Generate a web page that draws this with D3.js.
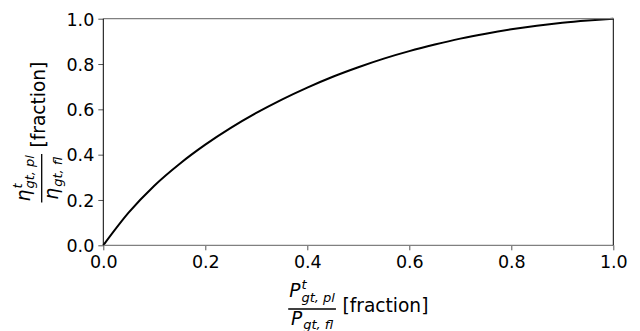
<!DOCTYPE html>
<html>
<head>
<meta charset="utf-8">
<script src="https://cdn.jsdelivr.net/npm/d3@7"></script>
<style>
  body { margin: 0; background: #fff; }
  text { font-family: "DejaVu Sans", sans-serif; }
</style>
</head>
<body>
<svg width="640" height="331"></svg>
<script>
// load fraction vs relative efficiency
var loadFrac = [0, 0.05, 0.1, 0.15, 0.2, 0.25, 0.3, 0.35, 0.4, 0.45, 0.5,
                0.55, 0.6, 0.65, 0.7, 0.75, 0.8, 0.85, 0.9, 0.95, 1.0];
var effFrac = [0, 0.145, 0.263, 0.36, 0.444, 0.518, 0.584, 0.643, 0.696, 0.744, 0.786,
               0.824, 0.857, 0.886, 0.912, 0.934, 0.953, 0.969, 0.982, 0.992, 1.0];
var tickVals = [0, 0.2, 0.4, 0.6, 0.8, 1.0];

var svg = d3.select("svg"),
    margin = {left: 103.3, top: 18.7},
    width = 510, height = 226.6,
    g = svg.append("g").attr("transform", "translate(" + margin.left + "," + margin.top + ")");

var x = d3.scaleLinear().domain([0, 1]).range([0, width]);
var y = d3.scaleLinear().domain([0, 1]).range([height, 0]);

var data = loadFrac.map(function (d, i) { return {x: d, y: effFrac[i]}; });

var tickFont = 17.5, labelFont = 18.6;

// axes (ticks only, spines drawn separately)
var xAxis = g.append("g")
    .attr("transform", "translate(0," + height + ")")
    .call(d3.axisBottom(x).tickValues(tickVals).tickFormat(d3.format(".1f")).tickSize(5).tickPadding(4));
var yAxis = g.append("g")
    .call(d3.axisLeft(y).tickValues(tickVals).tickFormat(d3.format(".1f")).tickSize(5).tickPadding(4));

[xAxis, yAxis].forEach(function (a) {
    a.select(".domain").remove();
    a.selectAll(".tick line").attr("stroke", "#555").attr("stroke-width", 1);
    a.selectAll(".tick text")
        .attr("fill", "#000")
        .style("font-family", "DejaVu Sans")
        .style("font-size", tickFont + "px");
});
yAxis.selectAll(".tick text").attr("dy", "0.36em");
xAxis.selectAll(".tick text").attr("dy", "0.76em");

// curve
g.append("path")
    .datum(data)
    .attr("fill", "none")
    .attr("stroke", "#000")
    .attr("stroke-width", 2)
    .attr("d", d3.line()
        .curve(d3.curveMonotoneX)
        .x(function (d) { return x(d.x); })
        .y(function (d) { return y(d.y); }));

// spines: top/bottom gray, left/right black
g.append("line").attr("x1", 0).attr("x2", width).attr("y1", 0).attr("y2", 0)
    .attr("stroke", "#808080").attr("stroke-width", 1.2);
g.append("line").attr("x1", 0).attr("x2", width).attr("y1", height).attr("y2", height)
    .attr("stroke", "#808080").attr("stroke-width", 1.2);
g.append("line").attr("x1", 0).attr("x2", 0).attr("y1", 0).attr("y2", height)
    .attr("stroke", "#000").attr("stroke-width", 1);
g.append("line").attr("x1", width).attr("x2", width).attr("y1", 0).attr("y2", height)
    .attr("stroke", "#000").attr("stroke-width", 1);

// fraction label: base symbol with stacked super/subscripts, over/under a bar
function fracLabel(parent, sym, numSup, numSub, denSub, tail) {
    var fs = labelFont, ss = fs * 0.7;

    function piece(px, py, txt, size) {
        return parent.append("text")
            .attr("x", px).attr("y", py)
            .style("font-size", size + "px")
            .style("font-style", "italic")
            .text(txt);
    }
    function term(baseY, sup, sub) {
        var grp = [];
        var b = piece(0, baseY, sym, fs);
        var bw = b.node().getComputedTextLength();
        var w = bw;
        grp.push(b);
        if (sup) {
            var s = piece(bw + 1, baseY - fs * 0.46, sup, ss);
            w = Math.max(w, bw + 1 + s.node().getComputedTextLength());
            grp.push(s);
        }
        var u = piece(bw + 1, baseY + fs * 0.22, sub, ss);
        w = Math.max(w, bw + 1 + u.node().getComputedTextLength());
        grp.push(u);
        return {items: grp, w: w};
    }
    var num = term(-fs * 0.62, numSup, numSub);
    var den = term(fs * 0.88, null, denSub);
    var barW = Math.max(num.w, den.w) + 2;
    [num, den].forEach(function (t) {
        var off = (barW - t.w) / 2;
        t.items.forEach(function (it) { it.attr("x", +it.attr("x") + off); });
    });
    parent.append("line").attr("x1", 0).attr("x2", barW).attr("y1", 0).attr("y2", 0)
        .attr("stroke", "#000").attr("stroke-width", 1.3);
    var tl = parent.append("text")
        .attr("x", barW + fs * 0.35).attr("y", fs * 0.17)
        .style("font-size", fs + "px")
        .text(tail);
    return barW + fs * 0.35 + tl.node().getComputedTextLength();
}

// x label
var xl = svg.append("g");
var xw = fracLabel(xl, "P", "t", "gt, pl", "gt, fl", "[fraction]");
xl.attr("transform", "translate(" + (margin.left + width / 2 - xw / 2) + ",309)");

// y label (rotated)
var yl = svg.append("g");
var yw = fracLabel(yl, "\u03b7", "t", "gt, pl", "gt, fl", "[fraction]");
yl.attr("transform", "translate(41.7," + (margin.top + height / 2 + yw / 2) + ") rotate(-90)");
</script>
</body>
</html>
